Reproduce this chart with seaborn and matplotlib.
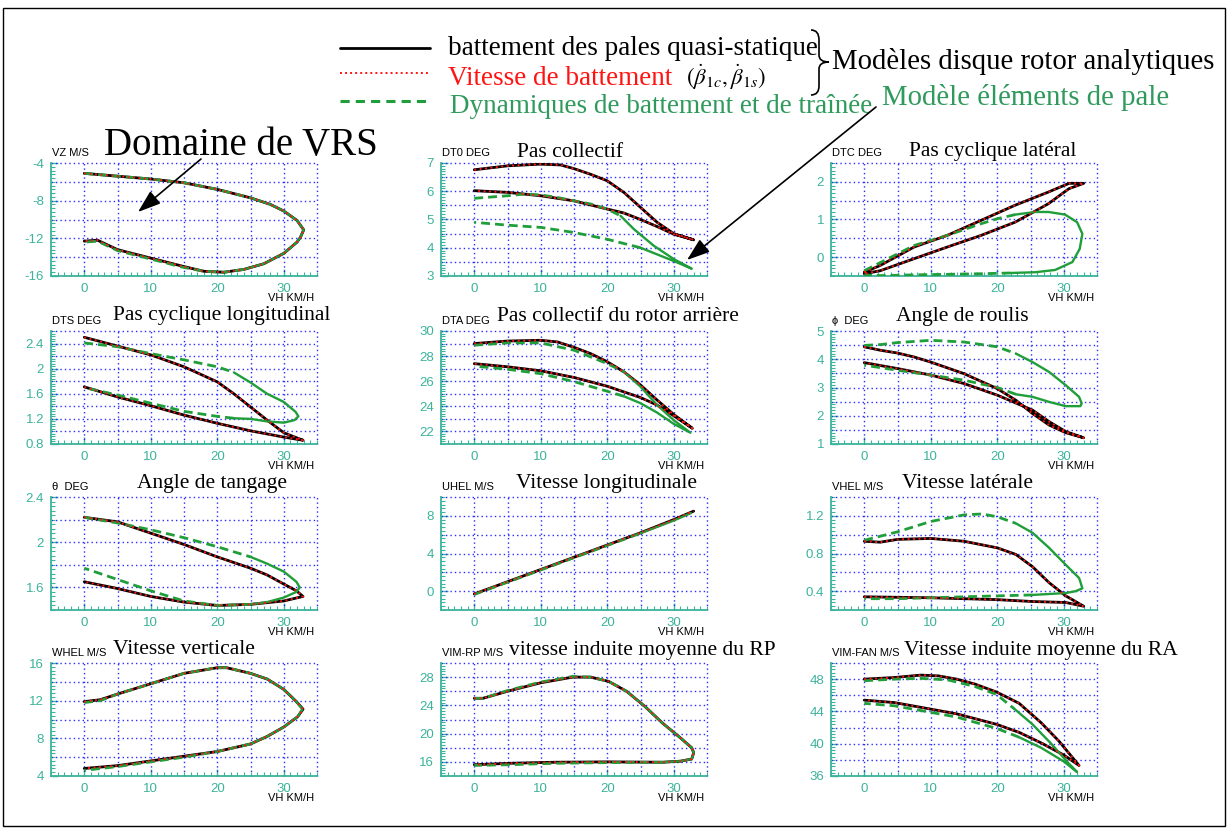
import numpy as np
import matplotlib
matplotlib.use("Agg")
import matplotlib.pyplot as plt
from matplotlib.path import Path
from matplotlib.patches import PathPatch, Rectangle
import seaborn as sns

# ------------------------------------------------------------------
# Loop data: VH (km/h) along the closed trajectory, black = quasi-static
# flapping model (the flapping-velocity model coincides with it),
# green = flapping/lead-lag dynamics + blade element model.
# ------------------------------------------------------------------
vz_vh = [0, 5, 10, 15, 20, 25, 28, 30, 32, 33, 32.5, 32, 30, 27, 24, 21, 18, 15, 10, 5, 2, 0]
vz_black = [-5.1, -5.4, -5.7, -6.1, -6.8, -7.7, -8.4, -9.1, -10.1, -11.1, -11.9, -12.4,
            -13.6, -14.7, -15.3, -15.6, -15.5, -15.0, -14.1, -13.2, -12.2, -12.3]
vz_green_vh = [0, 5, 10, 15, 20, 25, 28, 30, 32, 33, 32.5, 32, 30, 27, 24, 21, 18, 15, 10, 5, 2, 0]
vz_green = [-5.1, -5.4, -5.7, -6.1, -6.8, -7.7, -8.4, -9.1, -10.1, -11.1, -11.9, -12.4,
            -13.6, -14.7, -15.3, -15.6, -15.5, -15.1, -14.2, -13.3, -12.3, -12.4]

dt0_vh = [0, 5, 10, 13, 15, 17.5, 20, 22.5, 25, 27.5, 30, 33, 30, 27.5, 25, 22.5, 20, 15, 10, 5, 0]
dt0_black = [6.76, 6.9, 6.96, 6.93, 6.8, 6.6, 6.37, 5.96, 5.43, 4.9, 4.5, 4.28,
             4.48, 4.75, 5.0, 5.23, 5.37, 5.66, 5.84, 5.96, 6.02]
dt0_green_vh = [0, 5, 7.5, 10, 12.5, 15, 17.5, 20, 22, 24, 27, 30, 32.7, 30, 25, 20, 15, 10, 5, 0]
dt0_green = [5.75, 5.84, 5.9, 5.87, 5.78, 5.66, 5.55, 5.37, 5.13, 4.66, 4.07, 3.6, 3.26,
             3.53, 4.0, 4.3, 4.54, 4.72, 4.8, 4.9]

dtc_vh = [0, 2.4, 7.5, 12.5, 17.6, 22.7, 27.7, 30.8, 33, 30.8, 27.7, 22.7, 17.6, 12.5, 7.5, 2.4, 0]
dtc_black = [-0.4, -0.22, 0.27, 0.58, 0.98, 1.38, 1.73, 1.96, 1.96, 1.82, 1.42, 0.93,
             0.58, 0.27, -0.04, -0.36, -0.44]
dtc_green_vh = [0, 7.5, 12.5, 17.6, 20, 22.7, 25.7, 27.7, 30.2, 32, 32.8, 32.4, 31.3,
                28.7, 25.7, 22, 17.6, 7.5, 2.4, 0]
dtc_green = [-0.36, 0.31, 0.58, 0.89, 1.02, 1.13, 1.2, 1.2, 1.13, 0.93, 0.62, 0.22, -0.13,
             -0.34, -0.4, -0.42, -0.44, -0.47, -0.49, -0.47]

dts_vh = [0, 5, 10, 15, 20, 22.5, 25, 27.5, 30, 32.4, 32.9, 30, 25, 20, 15, 10, 5, 0]
dts_black = [2.5, 2.36, 2.22, 2.03, 1.79, 1.6, 1.39, 1.18, 0.98, 0.88, 0.86,
             0.91, 1.01, 1.13, 1.26, 1.41, 1.55, 1.71]
dts_green_vh = [0, 5, 10, 15, 20, 22.5, 25, 27.5, 30, 31.8, 32.2, 31.6, 30, 27.5, 25,
                22.5, 20, 15, 10, 5, 0]
dts_green = [2.41, 2.35, 2.24, 2.14, 2.03, 1.94, 1.78, 1.6, 1.47, 1.31, 1.24, 1.18, 1.14,
             1.16, 1.2, 1.21, 1.24, 1.32, 1.45, 1.58, 1.7]

dta_vh = [0, 5, 10, 12.5, 15, 17.5, 20, 22.5, 25, 27.5, 30, 32.8, 30, 27.5, 25, 20, 15, 10, 5, 0]
dta_black = [29.0, 29.2, 29.26, 29.13, 28.7, 28.2, 27.55, 26.75, 25.7, 24.5, 23.35, 22.25,
             23.25, 24.1, 24.7, 25.6, 26.3, 26.83, 27.15, 27.4]
dta_green_vh = [0, 5, 10, 15, 20, 22.5, 25, 27.5, 30, 32.5, 30, 27.5, 25, 22.5, 20, 15, 10, 5, 0]
dta_green = [28.87, 29.05, 29.05, 28.47, 27.4, 26.75, 25.57, 24.1, 22.9, 21.9, 22.6, 23.5,
             24.25, 24.8, 25.2, 25.97, 26.6, 26.95, 27.2]

phi_vh = [0, 2.4, 5, 7.5, 10, 15, 20, 22.8, 25.3, 27.8, 30.3, 33, 30.3, 27.8, 25.3, 20, 15, 10, 5, 0]
phi_black = [4.44, 4.32, 4.22, 4.08, 3.9, 3.49, 2.96, 2.55, 2.08, 1.67, 1.4, 1.22,
             1.44, 1.79, 2.2, 2.73, 3.14, 3.44, 3.67, 3.88]
phi_green_vh = [0, 2.5, 5, 10, 15, 20, 22.8, 25.3, 27.8, 30.3, 32.3, 32.7, 32.5, 30.3,
                27.8, 25.3, 22.8, 20, 15, 10, 5, 0]
phi_green = [4.49, 4.52, 4.59, 4.67, 4.61, 4.44, 4.2, 3.9, 3.55, 3.08, 2.67, 2.44, 2.34,
             2.34, 2.49, 2.67, 2.76, 3.0, 3.26, 3.44, 3.61, 3.79]

theta_vh = [0, 5, 10, 15, 20, 25, 27.5, 30, 31.9, 32.9, 30, 25, 20, 15, 10, 5, 0]
theta_black = [2.22, 2.18, 2.08, 1.98, 1.87, 1.77, 1.71, 1.63, 1.57, 1.52, 1.48, 1.45,
               1.44, 1.47, 1.52, 1.59, 1.65]
theta_green_vh = [0, 5, 10, 15, 20, 25, 27.5, 30, 31.9, 32.4, 31.9, 30, 27.5, 25, 20, 15, 10, 5, 0]
theta_green = [2.22, 2.17, 2.11, 2.04, 1.96, 1.87, 1.81, 1.74, 1.65, 1.6, 1.56, 1.51, 1.47,
               1.45, 1.44, 1.48, 1.57, 1.67, 1.77]

uhel_vh = [0, 5, 10, 15, 20, 25, 30, 33]
uhel_black = [-0.3, 1.0, 2.3, 3.6, 4.9, 6.2, 7.6, 8.5]
uhel_green_vh = [0, 5, 10, 15, 20, 25, 30, 32.6]
uhel_green = [-0.35, 0.95, 2.25, 3.55, 4.85, 6.15, 7.5, 8.3]

vhel_vh = [0, 2.4, 5, 10, 15, 20, 22.8, 25.3, 27.8, 30.3, 33, 30.3, 25.3, 20, 10, 0]
vhel_black = [0.93, 0.92, 0.95, 0.96, 0.93, 0.86, 0.79, 0.66, 0.49, 0.35, 0.24,
              0.28, 0.29, 0.31, 0.33, 0.34]
vhel_green_vh = [0, 5, 10, 15, 17.7, 20, 22.8, 25.3, 27.8, 30.3, 32.3, 32.5, 32.8, 31.8,
                 30.3, 25.3, 20, 15, 10, 5, 0]
vhel_green = [0.94, 1.03, 1.14, 1.21, 1.22, 1.19, 1.12, 1.02, 0.86, 0.68, 0.54, 0.5, 0.43,
              0.4, 0.38, 0.36, 0.35, 0.34, 0.33, 0.32, 0.32]

whel_vh = [0, 2.4, 5, 10, 15, 20, 21.4, 25, 27.5, 30, 31.9, 32.9, 32.1, 30, 27.5, 25,
           20, 15, 10, 5, 0]
whel_black = [11.9, 12.1, 12.7, 13.8, 14.9, 15.5, 15.5, 14.9, 14.3, 13.2, 11.9, 11.1,
              10.3, 9.2, 8.2, 7.4, 6.6, 6.1, 5.6, 5.1, 4.8]
whel_green_vh = [0, 2.4, 5, 10, 15, 20, 21.4, 25, 27.5, 30, 31.9, 32.8, 32.1, 30, 27.5, 25,
                 20, 15, 10, 5, 0]
whel_green = [11.8, 12.0, 12.7, 13.8, 14.9, 15.5, 15.5, 14.9, 14.3, 13.2, 11.9, 11.1,
              10.3, 9.2, 8.2, 7.4, 6.6, 6.0, 5.5, 5.0, 4.6]

rp_vh = [0, 1.3, 5, 10, 14.8, 17.5, 20.2, 22.9, 25.6, 28.3, 31, 32.7, 33, 32.7, 31, 28.3,
         20.2, 12.1, 5.4, 0]
rp_black = [25.0, 25.0, 26.0, 27.2, 28.0, 28.0, 27.4, 26.0, 23.9, 21.5, 19.4, 18.0, 17.3,
            16.4, 16.1, 15.95, 16.0, 15.95, 15.8, 15.6]
rp_green_vh = [0, 1.3, 5, 10, 14.8, 17.5, 20.2, 22.9, 25.6, 28.3, 31, 32.7, 33, 32.7, 31,
               28.3, 20.2, 12.1, 5.4, 0]
rp_green = [25.0, 25.0, 26.1, 27.3, 28.1, 28.0, 27.4, 26.0, 23.9, 21.5, 19.4, 18.0, 17.3,
            16.4, 16.1, 15.95, 15.9, 15.8, 15.6, 15.5]

fan_vh = [0, 4.5, 8.5, 11.2, 13.9, 16.6, 19.9, 23.3, 26.6, 29.3, 32.3, 30, 26.6, 23.3,
          19.9, 13.9, 9.9, 4.5, 0]
fan_black = [48.0, 48.2, 48.5, 48.4, 48.0, 47.4, 46.4, 45.0, 42.6, 40.3, 37.3, 38.6, 40.1,
             41.4, 42.4, 43.7, 44.3, 45.1, 45.4]
fan_green_vh = [0, 4.5, 8.5, 12.6, 16.6, 19.9, 22.6, 25.3, 28, 30.7, 32, 30, 26.6, 23.3,
                19.9, 13.9, 9.9, 4.5, 0]
fan_green = [47.8, 48.0, 48.1, 47.9, 47.1, 46.1, 44.3, 42.4, 40.1, 37.6, 36.5, 37.8, 39.5,
             40.8, 41.9, 43.3, 43.9, 44.7, 45.0]

# ------------------------------------------------------------------
# Styling
# ------------------------------------------------------------------
sns.set_theme(style="white")
plt.rcParams["font.family"] = ["Liberation Sans", "DejaVu Sans"]
plt.rcParams["mathtext.fontset"] = "stix"

TEAL = "#3cb39b"
GRID = "#2a2aff"
RED = "#ff1414"
GREEN = "#1f9e3a"
TXT_GREEN = "#2f9a5c"
SERIF = ["Liberation Serif", "DejaVu Serif"]
SPLIT_VH = 22  # beyond this speed the blade-element model is drawn solid

W, H = 1229, 834
fig = plt.figure(figsize=(W / 100, H / 100), dpi=100)
fig.patch.set_facecolor("white")

COL_LEFT = [51, 441, 831]
COL_W = 266
ROW_TOP = [163, 331, 497, 663]
ROW_H = 113

panels = [
    # (vh, black, green_vh, green, col, row, ylim, ystep, ylabels, unit, title, title_x, title_y)
    (vz_vh, vz_black, vz_green_vh, vz_green, 0, 0, (-16, -4), 2, [-16, -12, -8, -4], "VZ M/S", None, 0, 0),
    (dt0_vh, dt0_black, dt0_green_vh, dt0_green, 1, 0, (3, 7), 0.5, [3, 4, 5, 6, 7], "DT0 DEG", "Pas collectif", 570, 157),
    (dtc_vh, dtc_black, dtc_green_vh, dtc_green, 2, 0, (-0.5, 2.5), 0.5, [0, 1, 2], "DTC DEG", "Pas cyclique latéral", 993, 156),
    (dts_vh, dts_black, dts_green_vh, dts_green, 0, 1, (0.8, 2.6), 0.2, [0.8, 1.2, 1.6, 2.0, 2.4], "DTS DEG", "Pas cyclique longitudinal", 222, 320),
    (dta_vh, dta_black, dta_green_vh, dta_green, 1, 1, (21, 30), 1, [22, 24, 26, 28, 30], "DTA DEG", "Pas collectif du rotor arrière", 618, 321),
    (phi_vh, phi_black, phi_green_vh, phi_green, 2, 1, (1, 5), 0.5, [1, 2, 3, 4, 5], "\u03d5  DEG", "Angle de roulis", 962, 321),
    (theta_vh, theta_black, theta_green_vh, theta_green, 0, 2, (1.4, 2.4), 0.2, [1.6, 2.0, 2.4], "\u03b8  DEG", "Angle de tangage", 212, 488),
    (uhel_vh, uhel_black, uhel_green_vh, uhel_green, 1, 2, (-2, 10), 2, [0, 4, 8], "UHEL M/S", "Vitesse longitudinale", 606, 488),
    (vhel_vh, vhel_black, vhel_green_vh, vhel_green, 2, 2, (0.2, 1.4), 0.2, [0.4, 0.8, 1.2], "VHEL M/S", "Vitesse latérale", 968, 488),
    (whel_vh, whel_black, whel_green_vh, whel_green, 0, 3, (4, 16), 2, [4, 8, 12, 16], "WHEL M/S", "Vitesse verticale", 184, 654),
    (rp_vh, rp_black, rp_green_vh, rp_green, 1, 3, (14, 30), 2, [16, 20, 24, 28], "VIM-RP M/S", "vitesse induite moyenne du RP", 642, 655),
    (fan_vh, fan_black, fan_green_vh, fan_green, 2, 3, (36, 50), 2, [36, 40, 44, 48], "VIM-FAN M/S", "Vitesse induite moyenne du RA", 1041, 655),
]

overlay_text = []

for (vh, blk, gvh, grn, col, row, ylim, ystep, ylabs, unit, title, tx, ty) in panels:
    left = COL_LEFT[col]
    top = ROW_TOP[row]
    ax = fig.add_axes([left / W, 1 - (top + ROW_H) / H, COL_W / W, ROW_H / H])
    ax.set_facecolor("none")
    ylo, yhi = ylim

    # dotted blue grid, including the top and right borders
    for v in np.round(np.arange(ylo + ystep, yhi + ystep / 2, ystep), 6):
        ax.axhline(v, color=GRID, lw=1.0, ls=(0, (1, 2.2)), zorder=1, clip_on=False)
    for v in range(0, 36, 5):
        ax.axvline(v, color=GRID, lw=1.0, ls=(0, (1, 2.2)), zorder=1, clip_on=False)

    # quasi-static flapping model
    sns.lineplot(x=np.asarray(vh), y=np.asarray(blk), sort=False, estimator=None,
                 color="black", lw=2.0, ax=ax, zorder=3)

    # flapping/lead-lag dynamics: dashed at low speed, blade-element part solid
    g_vh = np.asarray(gvh, dtype=float)
    g_y = np.asarray(grn, dtype=float)
    hi = np.flatnonzero(g_vh >= SPLIT_VH)
    i0, i1 = hi[0], hi[-1]
    pieces = [(slice(0, i0 + 1), (0, (3.2, 1.8)), 2.0),
              (slice(i0, i1 + 1), "-", 1.7),
              (slice(i1, len(g_vh)), (0, (3.2, 1.8)), 2.0)]
    for sl, ls, lw in pieces:
        if len(g_vh[sl]) > 1:
            sns.lineplot(x=g_vh[sl], y=g_y[sl], sort=False, estimator=None,
                         color=GREEN, lw=lw, linestyle=ls, ax=ax, zorder=4)

    # flapping-velocity model (overlaps the quasi-static curve)
    sns.lineplot(x=np.asarray(vh), y=np.asarray(blk), sort=False, estimator=None,
                 color=RED, lw=1.4, linestyle=(0, (1, 1.8)), ax=ax, zorder=5)

    ax.set_xlim(-5, 35)
    ax.set_ylim(ylo, yhi)
    ax.set_xlabel("")
    ax.set_ylabel("")
    for s in ("top", "right"):
        ax.spines[s].set_visible(False)
    for s in ("left", "bottom"):
        ax.spines[s].set_color(TEAL)
        ax.spines[s].set_linewidth(1.3)
    ax.set_xticks([0, 10, 20, 30])
    ax.set_xticks(np.arange(-5, 35.01, 1), minor=True)
    ax.set_yticks(ylabs)
    ax.set_yticks(np.round(np.arange(ylo, yhi + 1e-9, ystep / 5), 6), minor=True)
    ax.set_yticklabels(["%g" % v for v in ylabs])
    ax.set_xticklabels(["0", "10", "20", "30"])
    ax.tick_params(which="both", direction="in", colors=TEAL, labelcolor=TEAL,
                   labelsize=9.5, left=True, bottom=True)
    ax.tick_params(which="major", length=5, width=1.0)
    ax.tick_params(which="minor", length=3, width=0.8)
    ax.tick_params(axis="x", pad=5)
    ax.tick_params(axis="y", pad=5)

    overlay_text.append((left + 1, top - 7, unit, dict(fontsize=8, ha="left", va="baseline",
                                                        color="black", family=["Liberation Sans", "DejaVu Sans"])))
    overlay_text.append((left + COL_W - 3, top + ROW_H + 25, "VH KM/H",
                         dict(fontsize=8, ha="right", va="baseline", color="black")))
    if title:
        overlay_text.append((tx, ty, title, dict(fontsize=15.5, ha="center", va="baseline",
                                                 color="black", family=SERIF)))

# ------------------------------------------------------------------
# Overlay in pixel coordinates: legend, annotations, frame
# ------------------------------------------------------------------
ov = fig.add_axes([0, 0, 1, 1], zorder=10)
ov.set_xlim(0, W)
ov.set_ylim(H, 0)
ov.axis("off")
ov.patch.set_visible(False)

for x, y, s, kw in overlay_text:
    ov.text(x, y, s, **kw)

# legend samples
ov.plot([340, 430], [48, 48], color="black", lw=2.0)
ov.plot([340, 430], [73, 73], color=RED, lw=1.4, ls=(0, (1, 1.6)))
ov.plot([340, 430], [101, 101], color=GREEN, lw=2.2, ls=(0, (3.0, 2.0)))

ov.text(448, 55, "battement des pales quasi-statique", fontsize=19.5, family=SERIF,
        color="black", va="baseline")
ov.text(448, 85, "Vitesse de battement", fontsize=19.5, family=SERIF, color=RED, va="baseline")
ov.text(686, 85, r"$(\dot{\beta}_{1c},\dot{\beta}_{1s})$", fontsize=16.5, color="black",
        va="baseline")
ov.text(450, 113, "Dynamiques de battement et de traînée", fontsize=19.5, family=SERIF,
        color=TXT_GREEN, va="baseline")
ov.text(832, 69, "Modèles disque rotor analytiques", fontsize=20.7, family=SERIF,
        color="black", va="baseline")
ov.text(882, 105, "Modèle éléments de pale", fontsize=20.7, family=SERIF,
        color=TXT_GREEN, va="baseline")

# curly brace grouping the analytical rotor-disc models
brace = Path(
    [(811, 30), (819, 30), (819, 40), (819, 55), (819, 62), (829, 62),
     (819, 62), (819, 69), (819, 86), (819, 95), (811, 95)],
    [Path.MOVETO, Path.CURVE3, Path.CURVE3, Path.LINETO, Path.CURVE3, Path.CURVE3,
     Path.CURVE3, Path.CURVE3, Path.LINETO, Path.CURVE3, Path.CURVE3])
ov.add_patch(PathPatch(brace, fill=False, lw=1.2, color="black"))

ov.text(104, 155, "Domaine de VRS", fontsize=28, family=SERIF, color="black", va="baseline")
ov.annotate("", xy=(138, 212), xytext=(201, 159),
            arrowprops=dict(arrowstyle="-|>,head_length=1.0,head_width=0.35",
                            color="black", lw=1.2, mutation_scale=14, shrinkA=0, shrinkB=0))
ov.annotate("", xy=(687, 260), xytext=(876, 107),
            arrowprops=dict(arrowstyle="-|>,head_length=1.0,head_width=0.35",
                            color="black", lw=1.2, mutation_scale=14, shrinkA=0, shrinkB=0))

ov.add_patch(Rectangle((3, 8), 1222, 818, fill=False, lw=1.0, edgecolor="black"))

fig.savefig("out.png", dpi=100, facecolor="white")
